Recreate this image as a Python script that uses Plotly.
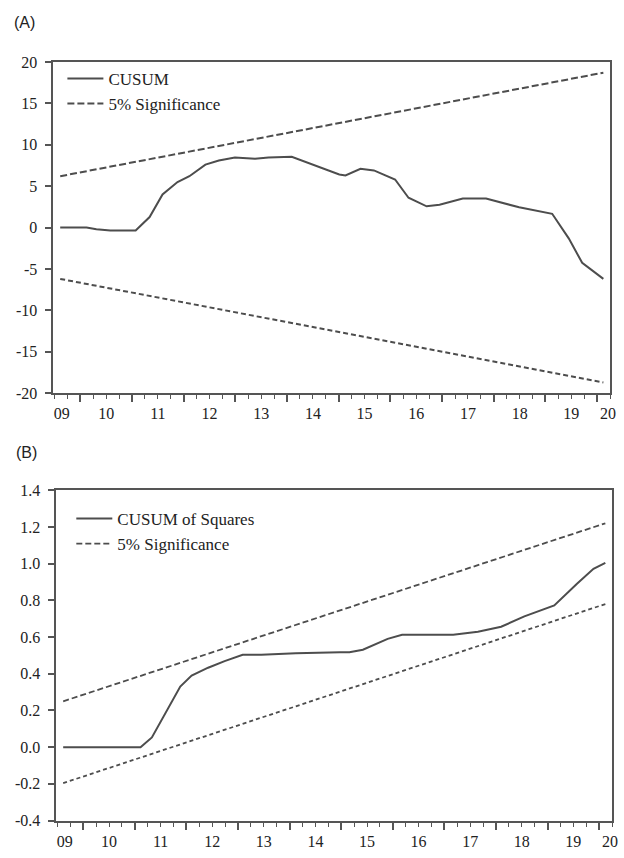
import plotly.graph_objects as go

# ---------------- Data ----------------
# Panel A: CUSUM
cusum_t = [2009.61, 2010.12, 2010.31, 2010.58, 2011.07, 2011.34, 2011.59, 2011.88,
           2012.11, 2012.42, 2012.68, 2012.99, 2013.38, 2013.64, 2014.09, 2014.34,
           2014.78, 2015.01, 2015.13, 2015.42, 2015.68, 2016.09, 2016.35, 2016.70,
           2016.95, 2017.40, 2017.85, 2018.49, 2019.13, 2019.45, 2019.71, 2020.12]
cusum_v = [0.0, 0.0, -0.2, -0.35, -0.35, 1.27, 4.0, 5.5,
           6.2, 7.6, 8.1, 8.45, 8.3, 8.45, 8.55, 7.97,
           6.9, 6.4, 6.3, 7.1, 6.9, 5.8, 3.6, 2.57,
           2.76, 3.5, 3.5, 2.45, 1.66, -1.3, -4.26, -6.2]
cusum_bound_t = [2009.61, 2020.12]
cusum_upper = [6.2, 18.7]
cusum_lower = [-6.2, -18.7]

# Panel B: CUSUM of Squares
cusumsq_t = [2009.61, 2011.11, 2011.33, 2011.59, 2011.88, 2012.10, 2012.42, 2012.74,
             2013.09, 2013.45, 2014.12, 2014.98, 2015.16, 2015.42, 2015.90, 2016.18,
             2017.17, 2017.65, 2018.10, 2018.55, 2019.13, 2019.57, 2019.89, 2020.12]
cusumsq_v = [0.0, 0.0, 0.053, 0.187, 0.33, 0.39, 0.433, 0.469,
             0.503, 0.503, 0.512, 0.517, 0.517, 0.531, 0.59, 0.613,
             0.613, 0.629, 0.656, 0.713, 0.772, 0.891, 0.972, 1.004]
cusumsq_bound_t = [2009.61, 2020.12]
cusumsq_upper = [0.25, 1.22]
cusumsq_lower = [-0.196, 0.78]

# Axis labels
x_label_pos = [2009.64, 2010.5, 2011.5, 2012.5, 2013.5, 2014.5, 2015.5, 2016.5,
               2017.5, 2018.5, 2019.5, 2020.21]
x_labels = ["09", "10", "11", "12", "13", "14", "15", "16", "17", "18", "19", "20"]
year_bounds = [2010, 2011, 2012, 2013, 2014, 2015, 2016, 2017, 2018, 2019, 2020]
ya_vals = [-20, -15, -10, -5, 0, 5, 10, 15, 20]
ya_text = ["-20", "-15", "-10", "-5", "0", "5", "10", "15", "20"]
yb_vals = [-0.4, -0.2, 0.0, 0.2, 0.4, 0.6, 0.8, 1.0, 1.2, 1.4]
yb_text = ["-0.4", "-0.2", "0.0", "0.2", "0.4", "0.6", "0.8", "1.0", "1.2", "1.4"]

# ---------------- Styling ----------------
W, H = 624, 858
AX = "#555555"
LINE = "#4d4d4d"
TXT = "#222222"
SERIF = "Liberation Serif"
XR = [2009.48, 2020.25]

def px_x(p):
    return p / W

def px_y(p):
    return 1 - p / H

fig = go.Figure()

# Panel A traces
fig.add_trace(go.Scatter(x=cusum_t, y=cusum_v, mode="lines", name="CUSUM",
                         line=dict(color=LINE, width=2), xaxis="x", yaxis="y",
                         legend="legend"))
fig.add_trace(go.Scatter(x=cusum_bound_t, y=cusum_upper, mode="lines", name="5% Significance",
                         line=dict(color=LINE, width=2, dash="7px,3px"), xaxis="x", yaxis="y",
                         legend="legend"))
fig.add_trace(go.Scatter(x=cusum_bound_t, y=cusum_lower, mode="lines", showlegend=False,
                         line=dict(color=LINE, width=2, dash="5px,3px"), xaxis="x", yaxis="y"))

# Panel B traces
fig.add_trace(go.Scatter(x=cusumsq_t, y=cusumsq_v, mode="lines", name="CUSUM of Squares",
                         line=dict(color=LINE, width=2), xaxis="x2", yaxis="y2",
                         legend="legend2"))
fig.add_trace(go.Scatter(x=cusumsq_bound_t, y=cusumsq_upper, mode="lines", name="5% Significance",
                         line=dict(color=LINE, width=1.8, dash="6px,3px"), xaxis="x2", yaxis="y2",
                         legend="legend2"))
fig.add_trace(go.Scatter(x=cusumsq_bound_t, y=cusumsq_lower, mode="lines", showlegend=False,
                         line=dict(color=LINE, width=1.8, dash="4px,3px"), xaxis="x2", yaxis="y2"))

# empty traces to activate label axes
fig.add_trace(go.Scatter(x=[], y=[], xaxis="x3", yaxis="y", showlegend=False, hoverinfo="skip"))
fig.add_trace(go.Scatter(x=[], y=[], xaxis="x4", yaxis="y2", showlegend=False, hoverinfo="skip"))

tick_axis = dict(range=XR, showline=True, mirror=True, linecolor=AX, linewidth=2,
                 showgrid=False, zeroline=False, tickmode="array", tickvals=year_bounds,
                 ticks="outside", ticklen=7, tickwidth=1.5, tickcolor=AX,
                 showticklabels=False,
                 minor=dict(tickmode="linear", tick0=2010, dtick=0.25, ticks="outside",
                            ticklen=4, tickwidth=1.2, tickcolor=AX, showgrid=False))
label_axis = dict(range=XR, showline=False, showgrid=False, zeroline=False,
                  tickmode="array", tickvals=x_label_pos, ticktext=x_labels,
                  ticks="outside", ticklen=6, tickcolor="rgba(0,0,0,0)",
                  tickfont=dict(family=SERIF, size=16, color=TXT))
y_common = dict(showline=True, mirror=True, linecolor=AX, linewidth=2,
                ticks="outside", ticklen=6, tickwidth=1.5, tickcolor=AX,
                showgrid=False, zeroline=False, ticklabelstandoff=5,
                tickfont=dict(family=SERIF, size=16, color=TXT))

fig.update_layout(
    width=W, height=H, margin=dict(l=0, r=0, t=0, b=0),
    paper_bgcolor="white", plot_bgcolor="white",
    showlegend=True,
    xaxis=dict(domain=[px_x(54), px_x(616)], anchor="y", **tick_axis),
    xaxis3=dict(overlaying="x", anchor="y", side="bottom", **label_axis),
    yaxis=dict(domain=[px_y(393), px_y(55)], anchor="x", range=[-20, 20],
               tickmode="array", tickvals=ya_vals, ticktext=ya_text, **y_common),
    xaxis2=dict(domain=[px_x(57), px_x(618)], anchor="y2", **tick_axis),
    xaxis4=dict(overlaying="x2", anchor="y2", side="bottom", **label_axis),
    yaxis2=dict(domain=[px_y(829), px_y(492)], anchor="x2", range=[-0.4, 1.4],
                tickmode="array", tickvals=yb_vals, ticktext=yb_text, **y_common),
    legend=dict(x=px_x(63), y=px_y(54), xanchor="left", yanchor="top",
                bgcolor="rgba(0,0,0,0)", font=dict(family=SERIF, size=17, color=TXT),
                tracegroupgap=0, itemwidth=36),
    legend2=dict(x=px_x(72), y=px_y(503), xanchor="left", yanchor="top",
                 bgcolor="rgba(0,0,0,0)", font=dict(family=SERIF, size=17, color=TXT),
                 tracegroupgap=0, itemwidth=36),
    annotations=[
        dict(text="(A)", x=px_x(12), y=px_y(15), xref="paper", yref="paper",
             xanchor="left", yanchor="middle", showarrow=False,
             font=dict(family="Liberation Sans", size=16, color=TXT)),
        dict(text="(B)", x=px_x(14), y=px_y(453), xref="paper", yref="paper",
             xanchor="left", yanchor="middle", showarrow=False,
             font=dict(family="Liberation Sans", size=16, color=TXT)),
    ],
)

fig.write_html("out.html")
